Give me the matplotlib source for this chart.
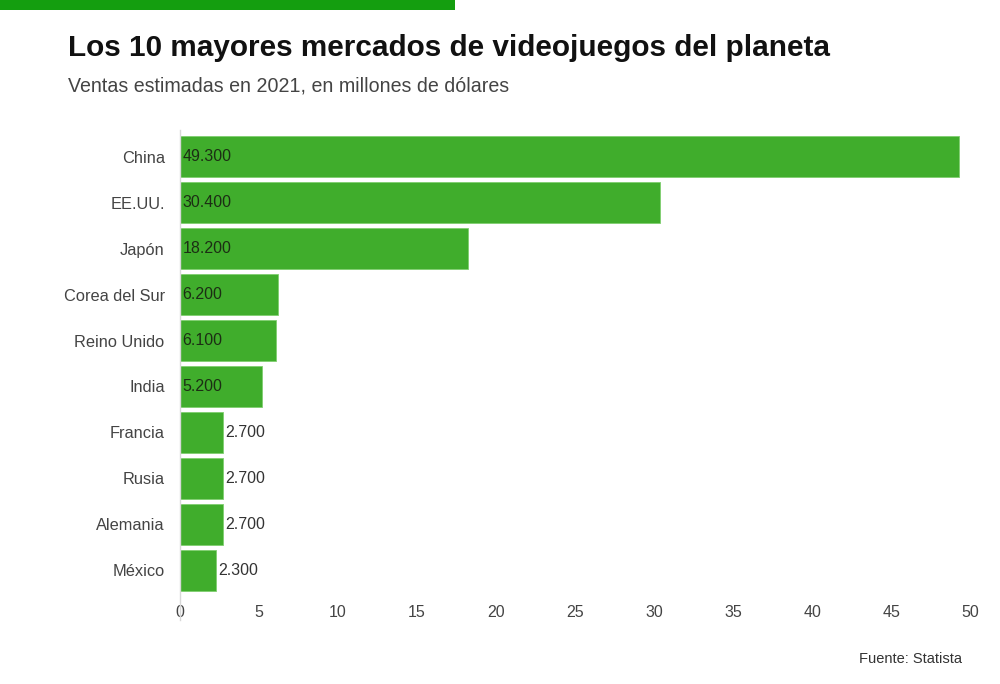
import matplotlib
matplotlib.use("Agg")
import matplotlib.pyplot as plt
from matplotlib.lines import Line2D
from matplotlib.patches import Rectangle

paises = ["China", "EE.UU.", "Japón", "Corea del Sur", "Reino Unido",
          "India", "Francia", "Rusia", "Alemania", "México"]
ventas = [49.3, 30.4, 18.2, 6.2, 6.1, 5.2, 2.7, 2.7, 2.7, 2.3]
etiquetas = ["49.300", "30.400", "18.200", "6.200", "6.100",
             "5.200", "2.700", "2.700", "2.700", "2.300"]
ticks = [0, 5, 10, 15, 20, 25, 30, 35, 40, 45, 50]

verde = "#40ad2c"
plt.rcParams["font.family"] = ["Liberation Sans", "DejaVu Sans"]

fig = plt.figure(figsize=(10, 6.84), dpi=100)
W, H = 1000, 684

# franja verde arriba
fig.add_artist(Rectangle((0, 1 - 10 / H), 455 / W, 10 / H,
                         transform=fig.transFigure, color="#149e0f", lw=0))

fig.text(68 / W, 1 - 56 / H, "Los 10 mayores mercados de videojuegos del planeta",
         fontsize=21.4, fontweight="bold", color="#111111", va="baseline")
fig.text(68 / W, 1 - 91 / H, "Ventas estimadas en 2021, en millones de dólares",
         fontsize=14.1, color="#444444", va="baseline")
fig.text(962 / W, 1 - 663 / H, "Fuente: Statista", fontsize=10.5,
         color="#333333", ha="right", va="baseline")

ax = fig.add_axes([180 / W, 1 - 598 / H, 795 / W, (598 - 129) / H])
y = list(range(len(paises)))
ax.barh(y, ventas, height=0.9, color=verde, edgecolor="#7fcf6f", linewidth=0.6)
ax.set_ylim(9.6, -0.6)
ax.set_xlim(0, 50.3)

for i, (v, t) in enumerate(zip(ventas, etiquetas)):
    if v >= 5:
        ax.text(0.15, i, t, va="center", ha="left", fontsize=11.5, color="#1c2e14")
    else:
        ax.text(v + 0.15, i, t, va="center", ha="left", fontsize=11.5, color="#333333")

ax.set_yticks(y)
ax.set_yticklabels(paises, fontsize=11.8, color="#444444")
ax.set_xticks(ticks)
ax.set_xticklabels([str(t) for t in ticks], fontsize=11.5, color="#444444")
ax.tick_params(length=0)
ax.tick_params(axis="x", pad=5)
ax.tick_params(axis="y", pad=11)
for s in ax.spines.values():
    s.set_visible(False)

fig.add_artist(Line2D([180 / W, 180 / W], [1 - 130 / H, 1 - 620 / H],
                      transform=fig.transFigure, color="#d8d8d8", lw=1))

fig.savefig("out.png", dpi=100, facecolor="white")
